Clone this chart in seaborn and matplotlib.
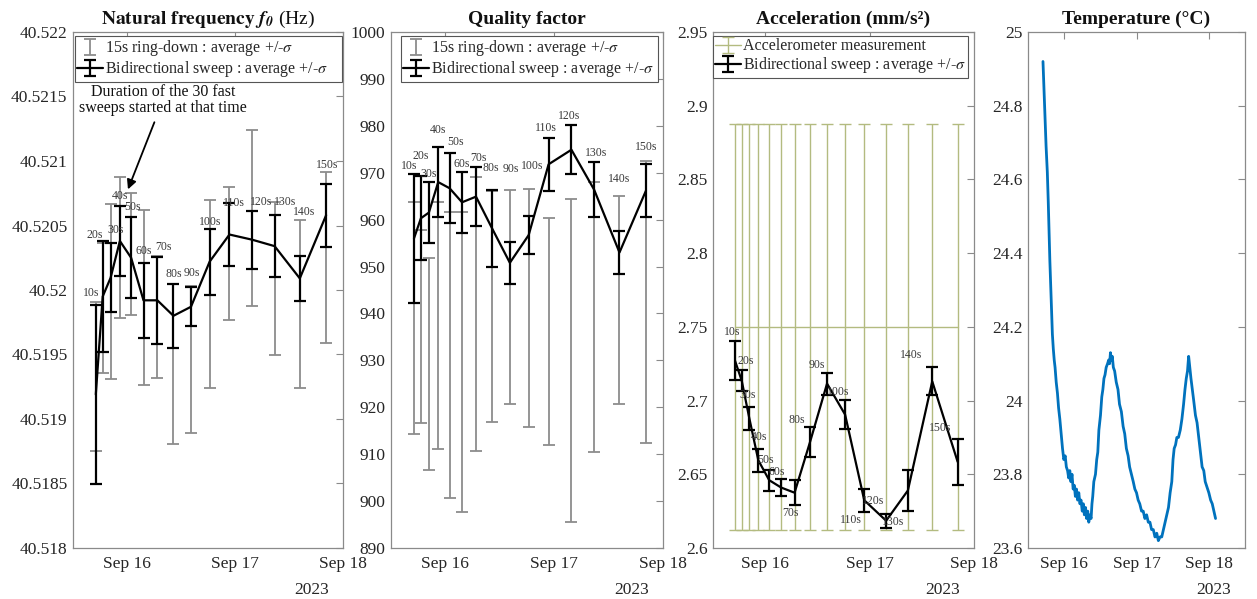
import numpy as np
import pandas as pd
import matplotlib
matplotlib.use("Agg")
import matplotlib.pyplot as plt
import matplotlib.dates as mdates
import seaborn as sns

# ---------------- data ----------------
sweep_labels = ['10s', '20s', '30s', '40s', '50s', '60s', '70s', '80s', '90s',
                '100s', '110s', '120s', '130s', '140s', '150s']
sweep_times = ['2023-09-15 17:04', '2023-09-15 18:36', '2023-09-15 20:21',
               '2023-09-15 22:25', '2023-09-16 00:55', '2023-09-16 03:40',
               '2023-09-16 06:45', '2023-09-16 10:19', '2023-09-16 14:13',
               '2023-09-16 18:22', '2023-09-16 22:46', '2023-09-17 03:48',
               '2023-09-17 08:48', '2023-09-17 14:24', '2023-09-17 20:15']

f0_sweep_mean = [40.51919, 40.51995, 40.520094, 40.52038, 40.52025, 40.51992,
                 40.51992, 40.51980, 40.51987, 40.52022, 40.52043, 40.52039,
                 40.52034, 40.52009, 40.52058]
f0_sweep_std = [0.000691, 0.000432, 0.000267, 0.000268, 0.000315, 0.000292,
                0.000335, 0.000248, 0.000151, 0.000255, 0.000245, 0.000226,
                0.000241, 0.000174, 0.000245]
f0_ring_mean = [40.51933, 40.51986, 40.51999, 40.52033, 40.52028, 40.51994,
                40.51979, 40.51943, 40.51946, 40.51997, 40.52028, 40.52056,
                40.52009, 40.51989, 40.52025]
f0_ring_std = [0.000575, 0.000506, 0.000680, 0.000545, 0.000470, 0.000677,
               0.000473, 0.000620, 0.000570, 0.000730, 0.000516, 0.000681,
               0.000592, 0.000653, 0.000664]

q_sweep_mean = [956.0, 960.3, 961.5, 968.0, 966.7, 963.7, 964.9, 958.1, 950.8,
                956.7, 971.8, 974.9, 966.4, 953.0, 966.2]
q_sweep_std = [13.75, 8.9, 6.5, 7.4, 7.4, 6.5, 6.3, 8.3, 4.5, 4.1, 5.7, 5.2,
               5.8, 4.5, 5.6]
q_ring_mean = [939.0, 937.2, 929.2, 937.5, 931.2, 929.7, 939.8, 941.5, 943.6,
               941.2, 936.2, 929.9, 939.2, 942.9, 942.5]
q_ring_std = [24.8, 20.6, 22.6, 26.3, 30.5, 32.0, 29.2, 24.6, 22.8, 25.3, 24.2,
              34.4, 28.8, 22.1, 30.1]

acc_sweep_mean = [2.727, 2.7135, 2.688, 2.6595, 2.646, 2.641, 2.6375, 2.672,
                  2.7115, 2.6905, 2.6324, 2.6185, 2.639, 2.713, 2.6584]
acc_sweep_std = [0.0133, 0.0073, 0.0079, 0.0078, 0.0072, 0.0056, 0.0086, 0.010,
                 0.0075, 0.0096, 0.0078, 0.0047, 0.0139, 0.0095, 0.0157]
acc_meter_mean = [2.75] * 15
acc_meter_std = [0.1375] * 15

temp_hours = [-7.03, -6.72, -6.36, -6.0, -5.59, -5.28, -5.02, -4.75, -4.46, -4.2,
              -3.91, -3.6, -3.3, -3.02, -2.64, -2.23, -1.85, -1.44, -1.0, -0.55,
              -0.12, 0.34, 0.72, 1.13, 1.5, 1.87, 2.23, 2.6, 2.98, 3.36, 3.72,
              4.08, 4.46, 4.85, 5.23, 5.59, 6.0, 6.36, 6.7, 7.08, 7.44, 7.82,
              8.16, 8.59, 8.93, 9.22, 9.48, 9.84, 10.39, 10.8, 11.16, 11.52,
              12.05, 12.48, 12.84, 13.2, 13.56, 13.94, 14.4, 14.76, 15.07,
              15.36, 15.65, 15.96, 16.32, 16.75, 17.28, 17.86, 18.36, 18.98,
              19.56, 20.09, 20.64, 21.22, 21.72, 22.32, 22.92, 23.45, 24.0,
              24.55, 25.08, 25.68, 26.23, 26.78, 27.36, 27.91, 28.46, 29.0,
              29.57, 30.14, 30.72, 31.25, 31.8, 32.38, 32.93, 33.48, 34.03,
              34.61, 35.16, 35.71, 36.12, 36.5, 36.96, 37.39, 37.92, 38.52,
              39.07, 39.62, 40.08, 40.51, 40.92, 41.3, 41.69, 42.07, 42.53,
              42.98, 43.56, 44.09, 44.64, 45.22, 45.77, 46.32, 46.8, 47.21,
              47.64, 48.0, 48.6, 49.13, 49.68, 50.23]
temp_values = [24.92, 24.85, 24.77, 24.69, 24.62, 24.54, 24.46, 24.38, 24.31,
               24.24, 24.18, 24.14, 24.11, 24.09, 24.05, 24.02, 23.98, 23.95,
               23.91, 23.87, 23.84, 23.85, 23.82, 23.81, 23.79, 23.81, 23.78,
               23.80, 23.76, 23.77, 23.74, 23.76, 23.73, 23.75, 23.72, 23.73,
               23.70, 23.72, 23.69, 23.71, 23.68, 23.70, 23.67, 23.69, 23.68,
               23.72, 23.74, 23.78, 23.80, 23.84, 23.86, 23.92, 23.96, 24.01,
               24.03, 24.06, 24.07, 24.09, 24.10, 24.11, 24.10, 24.13, 24.11,
               24.12, 24.09, 24.08, 24.05, 24.03, 23.99, 23.97, 23.93, 23.91,
               23.87, 23.85, 23.82, 23.80, 23.78, 23.76, 23.75, 23.73, 23.72,
               23.70, 23.70, 23.68, 23.69, 23.67, 23.67, 23.65, 23.65, 23.63,
               23.64, 23.62, 23.63, 23.63, 23.65, 23.67, 23.69, 23.71, 23.75,
               23.78, 23.84, 23.87, 23.88, 23.90, 23.90, 23.92, 23.95, 23.99,
               24.03, 24.06, 24.08, 24.12, 24.09, 24.06, 24.03, 24.00, 23.96,
               23.94, 23.90, 23.86, 23.82, 23.81, 23.78, 23.77, 23.76, 23.75,
               23.73, 23.72, 23.70, 23.68]

f0_ticks = ['40.518', '40.5185', '40.519', '40.5195', '40.52', '40.5205',
            '40.521', '40.5215', '40.522']
q_ticks = ['890', '900', '910', '920', '930', '940', '950', '960', '970', '980',
           '990', '1000']
acc_ticks = ['2.6', '2.65', '2.7', '2.75', '2.8', '2.85', '2.9', '2.95']
temp_ticks = ['23.6', '23.8', '24', '24.2', '24.4', '24.6', '24.8', '25']

# label offsets (pixels, screen) relative to each sweep point
f0_lab_off = [(-5, -101), (-8, -61), (5, -48), (0, -45), (1, -51), (0, -49),
              (6, -53), (0, -42), (1, -34), (0, -40), (4, -32), (9, -38),
              (10, -44), (4, -66), (1, -50)]
q_lab_off = [(-5, -72), (0, -62), (0, -39), (0, -52), (6, -46), (0, -38),
             (2, -39), (-1, -61), (1, -94), (3, -69), (-3, -36), (-2, -34),
             (2, -37), (0, -73), (0, -44)]
acc_lab_off = [(-3, -29), (4, -20), (-2, -23), (1, -23), (-4, -20), (-4, -16),
               (-4, 20), (-13, -22), (-10, -19), (-7, -23), (-13, 20),
               (-13, -20), (-15, 31), (-21, -26), (-18, -34)]

# ---------------- style ----------------
sns.set_theme(style="white")
plt.rcParams['font.family'] = ['Liberation Serif', 'DejaVu Serif']
plt.rcParams['mathtext.fontset'] = 'stix'

W, H = 1257, 599
fig = plt.figure(figsize=(W / 100, H / 100), dpi=100)
fig.patch.set_facecolor('white')

top_px, bot_px = 32, 548
xs = [(73, 343), (391, 663), (713, 974), (1028, 1245)]
axes = [fig.add_axes([l / W, 1 - bot_px / H, (r - l) / W, (bot_px - top_px) / H])
        for l, r in xs]

t = pd.to_datetime(sweep_times)
temp_t = pd.Timestamp('2023-09-16') + pd.to_timedelta(temp_hours, unit='h')

GREY = '#8c8c8c'
GREEN = '#b3bb80'
BLUE = '#0072BD'
SPINE = '#8a8a8a'


def style_axis(ax, xmax, yticks, ylabels, title):
    ax.set_facecolor('white')
    for s in ax.spines.values():
        s.set_color(SPINE)
        s.set_linewidth(0.9)
    ax.set_xlim(pd.Timestamp('2023-09-15 12:00'), pd.Timestamp(xmax))
    ax.xaxis.set_major_locator(mdates.DayLocator())
    ax.xaxis.set_major_formatter(mdates.DateFormatter('%b %d'))
    ax.set_ylim(yticks[0], yticks[-1])
    ax.set_yticks(yticks)
    ax.set_yticklabels(ylabels)
    ax.tick_params(axis='both', direction='in', top=True, right=True,
                   length=5, width=0.8, color=SPINE, labelcolor='#262626',
                   labelsize=12.5)
    ax.tick_params(axis='x', pad=6)
    ax.tick_params(axis='y', pad=4)
    ax.set_xlabel('')
    ax.set_ylabel('')
    ax.set_title(title, fontsize=14, fontweight='bold', pad=6, color='#111111')
    wpx = ax.get_position().width * W
    ax.text(1 - 14 / wpx, -0.082, '2023', transform=ax.transAxes, ha='right',
            va='center', fontsize=12.5, color='#262626')


def sweep_labels_draw(ax, means, offs):
    for ti, m, lab, (dx, dy) in zip(t, means, sweep_labels, offs):
        ax.annotate(lab, (ti, m), xytext=(dx, -dy), textcoords='offset pixels',
                    ha='center', va='center', fontsize=8.5, color='#3a3a3a',
                    zorder=5)


def legend(ax, handles, labels, x0, w):
    leg = ax.legend(handles, labels, loc='upper left',
                    bbox_to_anchor=(x0, 0, w, 1 - 4 / 516), mode='expand',
                    borderaxespad=0, fancybox=False, framealpha=1,
                    edgecolor='#555555', fontsize=11.5, handlelength=1.6,
                    handletextpad=0.15, borderpad=0.15, labelspacing=0.05)
    leg.get_frame().set_linewidth(0.8)


# ---- panel 1: natural frequency ----
ax = axes[0]
eg = ax.errorbar(t, f0_ring_mean, yerr=f0_ring_std, fmt='none', ecolor=GREY,
                 elinewidth=1.3, capsize=4, capthick=1.3, zorder=2)
eb = ax.errorbar(t, f0_sweep_mean, yerr=f0_sweep_std, fmt='-', color='black',
                 lw=1.6, elinewidth=1.6, capsize=4, capthick=1.6, zorder=3)
sweep_labels_draw(ax, f0_sweep_mean, f0_lab_off)
style_axis(ax, '2023-09-18 00:00', [float(v) for v in f0_ticks], f0_ticks,
           r'$\mathbf{Natural\ frequency}\ \mathbfit{f}_{\mathbfit{0}}$ (Hz)')
ax.title.set_fontweight('normal')
legend(ax, [eg, eb], ['15s ring-down : average +/-$\\sigma$',
                      'Bidirectional sweep : average +/-$\\sigma$'], 0.007, 0.99)
ax.annotate('Duration of the 30 fast\nsweeps started at that time',
            xy=(pd.Timestamp('2023-09-16 00:13'), 40.52078),
            xytext=(pd.Timestamp('2023-09-16 08:00'), 40.52147),
            ha='center', va='center', fontsize=11.5, color='#111111',
            linespacing=1.0,
            arrowprops=dict(arrowstyle='-|>', color='black', lw=1.3,
                            mutation_scale=14, shrinkA=2, shrinkB=0))

# ---- panel 2: quality factor ----
ax = axes[1]
eg = ax.errorbar(t, q_ring_mean, yerr=q_ring_std, fmt='none', ecolor=GREY,
                 elinewidth=1.3, capsize=4, capthick=1.3, zorder=2)
eb = ax.errorbar(t, q_sweep_mean, yerr=q_sweep_std, fmt='-', color='black',
                 lw=1.6, elinewidth=1.6, capsize=4, capthick=1.6, zorder=3)
sweep_labels_draw(ax, q_sweep_mean, q_lab_off)
style_axis(ax, '2023-09-18 00:00', [float(v) for v in q_ticks], q_ticks,
           'Quality factor')
legend(ax, [eg, eb], ['15s ring-down : average +/-$\\sigma$',
                      'Bidirectional sweep : average +/-$\\sigma$'], 0.037, 0.945)

# ---- panel 3: acceleration ----
ax = axes[2]
eg = ax.errorbar(t, acc_meter_mean, yerr=acc_meter_std, fmt='-', color=GREEN,
                 lw=1.0, elinewidth=1.0, capsize=4, capthick=1.0, zorder=2)
eb = ax.errorbar(t, acc_sweep_mean, yerr=acc_sweep_std, fmt='-', color='black',
                 lw=1.6, elinewidth=1.6, capsize=4, capthick=1.6, zorder=3)
sweep_labels_draw(ax, acc_sweep_mean, acc_lab_off)
style_axis(ax, '2023-09-18 00:00', [float(v) for v in acc_ticks], acc_ticks,
           'Acceleration (mm/s²)')
legend(ax, [eg, eb], ['Accelerometer measurement',
                      'Bidirectional sweep : average +/-$\\sigma$'], 0.0, 0.977)

# ---- panel 4: temperature ----
ax = axes[3]
temp_df = pd.DataFrame({'time': temp_t, 'temp': temp_values})
sns.lineplot(data=temp_df, x='time', y='temp', ax=ax, color=BLUE, lw=2.0,
             legend=False)
style_axis(ax, '2023-09-18 12:00', [float(v) for v in temp_ticks], temp_ticks,
           'Temperature (°C)')

fig.savefig('out.png', dpi=100, facecolor='white')
